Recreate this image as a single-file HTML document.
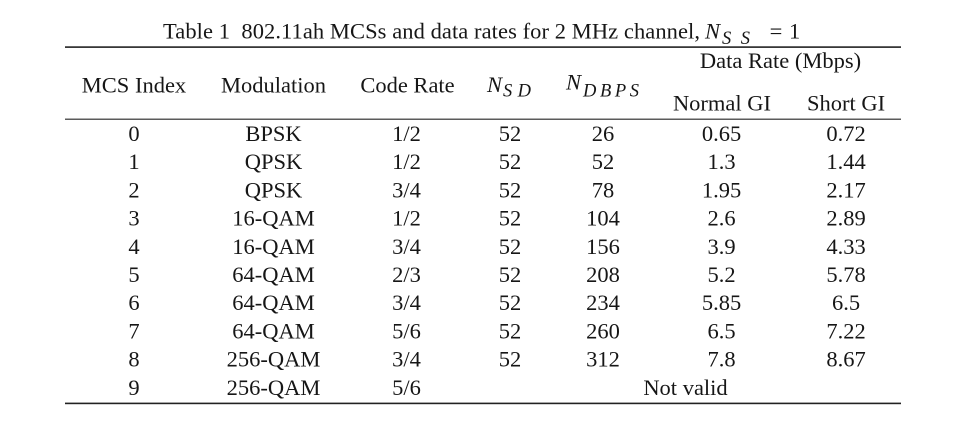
<!DOCTYPE html>
<html>
<head>
<meta charset="utf-8">
<style>
  html, body { margin: 0; padding: 0; background: #ffffff; }
  body { width: 980px; height: 436px; overflow: hidden; }
  svg { display: block; }
  text { font-family: "Liberation Serif", "Times New Roman", serif; font-size: 22.5px; fill: #161616; }
  .it { font-style: italic; }
  .sub { font-size: 18.5px; font-style: italic; }
</style>
</head>
<body>
<svg width="980" height="436" viewBox="0 0 980 436" xmlns="http://www.w3.org/2000/svg">
  <!-- Title -->
  <text x="163" y="38.5" xml:space="preserve" textLength="537" lengthAdjust="spacing">Table 1  802.11ah MCSs and data rates for 2 MHz channel,</text>
  <text x="705" y="38.5" class="it">N</text>
  <text x="722" y="44" class="sub" textLength="28" lengthAdjust="spacing">SS</text>
  <text x="776" y="38.5" text-anchor="middle">=</text>
  <text x="789" y="38.5">1</text>

  <!-- rules -->
  <rect x="65" y="46.3" width="836" height="1.6" fill="#222"/>
  <rect x="65" y="118.6" width="836" height="1.2" fill="#333"/>
  <rect x="65" y="402.6" width="836" height="1.6" fill="#222"/>

  <!-- Header -->
  <g text-anchor="middle">
    <text x="134" y="92.5">MCS Index</text>
    <text x="273.5" y="92.5">Modulation</text>
    <text x="407.5" y="92.5">Code Rate</text>
    <text x="780.5" y="68">Data Rate (Mbps)</text>
    <text x="722" y="110.5">Normal GI</text>
    <text x="846" y="110.5">Short GI</text>
  </g>
  <text x="487" y="92" class="it">N</text>
  <text x="503" y="96.5" class="sub" textLength="28" lengthAdjust="spacing">SD</text>
  <text x="566" y="89.5" class="it">N</text>
  <text x="583" y="96.5" class="sub" textLength="56" lengthAdjust="spacing">DBPS</text>

  <!-- Body rows -->
  <g text-anchor="middle">
    <text x="134" y="141">0</text>
    <text x="273.5" y="141">BPSK</text>
    <text x="406.5" y="141">1/2</text>
    <text x="510" y="141">52</text>
    <text x="603" y="141">26</text>
    <text x="721.5" y="141">0.65</text>
    <text x="846" y="141">0.72</text>

    <text x="134" y="169.2">1</text>
    <text x="273.5" y="169.2">QPSK</text>
    <text x="406.5" y="169.2">1/2</text>
    <text x="510" y="169.2">52</text>
    <text x="603" y="169.2">52</text>
    <text x="721.5" y="169.2">1.3</text>
    <text x="846" y="169.2">1.44</text>

    <text x="134" y="197.4">2</text>
    <text x="273.5" y="197.4">QPSK</text>
    <text x="406.5" y="197.4">3/4</text>
    <text x="510" y="197.4">52</text>
    <text x="603" y="197.4">78</text>
    <text x="721.5" y="197.4">1.95</text>
    <text x="846" y="197.4">2.17</text>

    <text x="134" y="225.6">3</text>
    <text x="273.5" y="225.6">16-QAM</text>
    <text x="406.5" y="225.6">1/2</text>
    <text x="510" y="225.6">52</text>
    <text x="603" y="225.6">104</text>
    <text x="721.5" y="225.6">2.6</text>
    <text x="846" y="225.6">2.89</text>

    <text x="134" y="253.8">4</text>
    <text x="273.5" y="253.8">16-QAM</text>
    <text x="406.5" y="253.8">3/4</text>
    <text x="510" y="253.8">52</text>
    <text x="603" y="253.8">156</text>
    <text x="721.5" y="253.8">3.9</text>
    <text x="846" y="253.8">4.33</text>

    <text x="134" y="282">5</text>
    <text x="273.5" y="282">64-QAM</text>
    <text x="406.5" y="282">2/3</text>
    <text x="510" y="282">52</text>
    <text x="603" y="282">208</text>
    <text x="721.5" y="282">5.2</text>
    <text x="846" y="282">5.78</text>

    <text x="134" y="310.2">6</text>
    <text x="273.5" y="310.2">64-QAM</text>
    <text x="406.5" y="310.2">3/4</text>
    <text x="510" y="310.2">52</text>
    <text x="603" y="310.2">234</text>
    <text x="721.5" y="310.2">5.85</text>
    <text x="846" y="310.2">6.5</text>

    <text x="134" y="338.4">7</text>
    <text x="273.5" y="338.4">64-QAM</text>
    <text x="406.5" y="338.4">5/6</text>
    <text x="510" y="338.4">52</text>
    <text x="603" y="338.4">260</text>
    <text x="721.5" y="338.4">6.5</text>
    <text x="846" y="338.4">7.22</text>

    <text x="134" y="366.6">8</text>
    <text x="273.5" y="366.6">256-QAM</text>
    <text x="406.5" y="366.6">3/4</text>
    <text x="510" y="366.6">52</text>
    <text x="603" y="366.6">312</text>
    <text x="721.5" y="366.6">7.8</text>
    <text x="846" y="366.6">8.67</text>

    <text x="134" y="394.8">9</text>
    <text x="273.5" y="394.8">256-QAM</text>
    <text x="406.5" y="394.8">5/6</text>
    <text x="685.5" y="394.8">Not valid</text>
  </g>
</svg>
</body>
</html>
